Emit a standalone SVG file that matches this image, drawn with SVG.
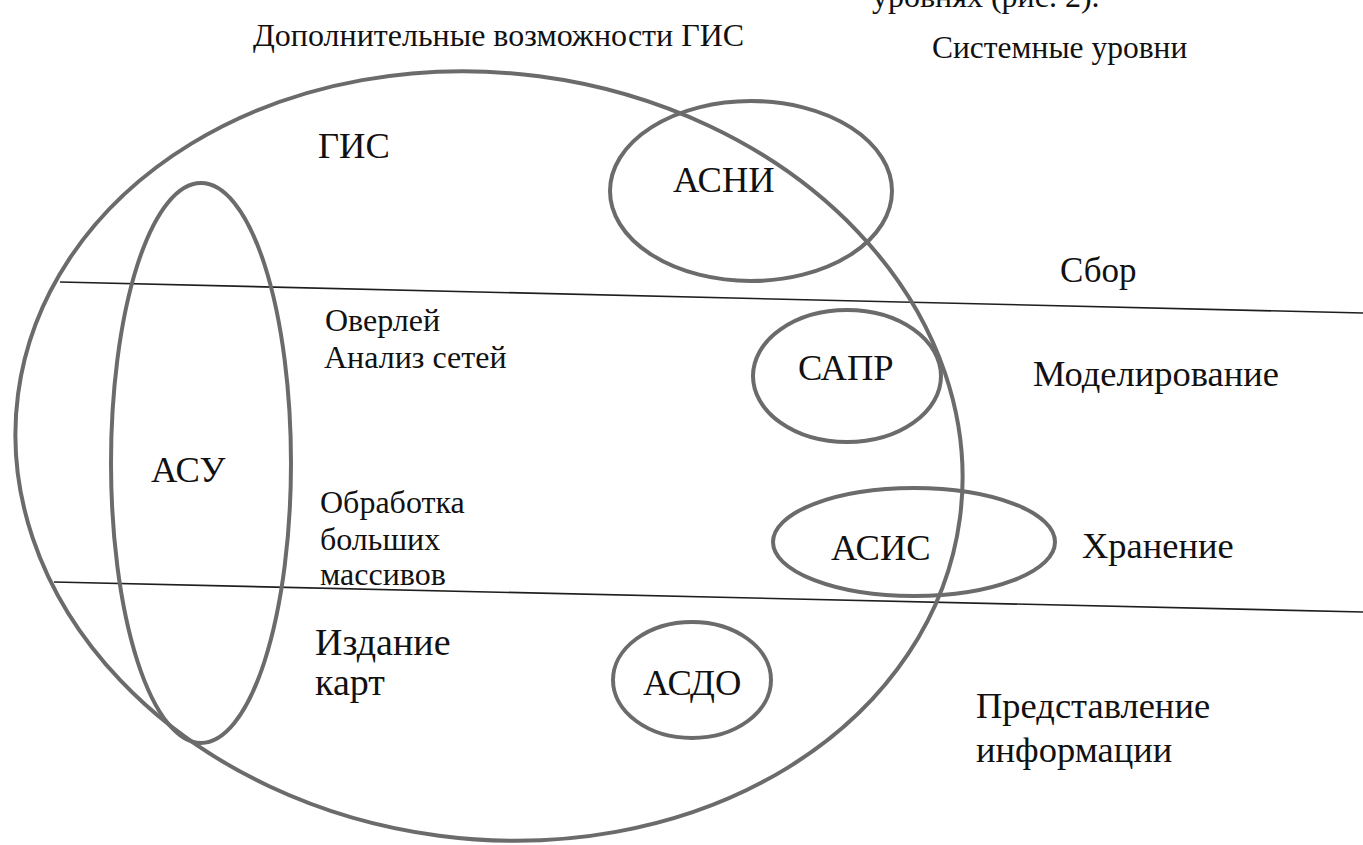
<svg xmlns="http://www.w3.org/2000/svg" width="1363" height="845" viewBox="0 0 1363 845">
<style>
.sh{fill:none;stroke:#6b6b6b;stroke-width:4}
.ln{stroke:#1e1e1e;stroke-width:1.6;fill:none}
</style>
<rect width="1363" height="845" fill="#fff"/>
<g id="levels">
<line class="ln" x1="60" y1="282" x2="1363" y2="313"/>
<line class="ln" x1="54" y1="582" x2="1363" y2="612"/>
</g>
<g id="headers">
<text x="872" y="7" font-family="Liberation Serif" font-size="32" fill="#111" style="font-family:'Liberation Serif',serif">уровнях (рис. 2).</text>
<text x="253" y="46" font-family="Liberation Serif" font-size="32" fill="#111" style="font-family:'Liberation Serif',serif">Дополнительные возможности ГИС</text>
<text x="932" y="58" font-family="Liberation Serif" font-size="31.5" fill="#111" style="font-family:'Liberation Serif',serif">Системные уровни</text>
</g>
<g id="level-labels">
<text x="1060" y="282" font-family="Liberation Serif" font-size="35" fill="#111" style="font-family:'Liberation Serif',serif">Сбор</text>
<text x="1033" y="386" font-family="Liberation Serif" font-size="36.5" fill="#111" style="font-family:'Liberation Serif',serif">Моделирование</text>
<text x="1082" y="558" font-family="Liberation Serif" font-size="36.5" fill="#111" style="font-family:'Liberation Serif',serif">Хранение</text>
<text x="976" y="718" font-family="Liberation Serif" font-size="36.5" fill="#111" style="font-family:'Liberation Serif',serif">Представление</text>
<text x="976" y="762" font-family="Liberation Serif" font-size="36.5" fill="#111" style="font-family:'Liberation Serif',serif">информации</text>
</g>
<g id="gis">
<ellipse class="sh" cx="489" cy="456" rx="475" ry="383" transform="rotate(7.5 489 456)"/>
<text x="318" y="158" font-family="Liberation Serif" font-size="36.5" fill="#111" style="font-family:'Liberation Serif',serif">ГИС</text>
<text x="325" y="331" font-family="Liberation Serif" font-size="32" fill="#111" style="font-family:'Liberation Serif',serif">Оверлей</text>
<text x="324" y="368" font-family="Liberation Serif" font-size="32" fill="#111" style="font-family:'Liberation Serif',serif">Анализ сетей</text>
<text x="320" y="513" font-family="Liberation Serif" font-size="32" fill="#111" style="font-family:'Liberation Serif',serif">Обработка</text>
<text x="320" y="550" font-family="Liberation Serif" font-size="32" fill="#111" style="font-family:'Liberation Serif',serif">больших</text>
<text x="320" y="585" font-family="Liberation Serif" font-size="32" fill="#111" style="font-family:'Liberation Serif',serif">массивов</text>
<text x="315" y="655" font-family="Liberation Serif" font-size="38" fill="#111" style="font-family:'Liberation Serif',serif">Издание</text>
<text x="315" y="695" font-family="Liberation Serif" font-size="38" fill="#111" style="font-family:'Liberation Serif',serif">карт</text>
</g>
<g id="asu">
<ellipse class="sh" cx="201" cy="463" rx="90" ry="280"/>
<text x="151" y="482" font-family="Liberation Serif" font-size="36.5" fill="#111" style="font-family:'Liberation Serif',serif">АСУ</text>
</g>
<g id="asni">
<ellipse class="sh" cx="751" cy="191" rx="141" ry="90"/>
<text x="673" y="192" font-family="Liberation Serif" font-size="36.5" fill="#111" style="font-family:'Liberation Serif',serif">АСНИ</text>
</g>
<g id="sapr">
<ellipse class="sh" cx="847" cy="376" rx="94" ry="66"/>
<text x="798" y="380" font-family="Liberation Serif" font-size="36.5" fill="#111" style="font-family:'Liberation Serif',serif">САПР</text>
</g>
<g id="asis">
<ellipse class="sh" cx="914" cy="542" rx="141" ry="54"/>
<text x="831" y="560" font-family="Liberation Serif" font-size="36.5" fill="#111" style="font-family:'Liberation Serif',serif">АСИС</text>
</g>
<g id="asdo">
<ellipse class="sh" cx="692" cy="680" rx="79" ry="58"/>
<text x="643" y="695" font-family="Liberation Serif" font-size="36.5" fill="#111" style="font-family:'Liberation Serif',serif">АСДО</text>
</g>
</svg>
